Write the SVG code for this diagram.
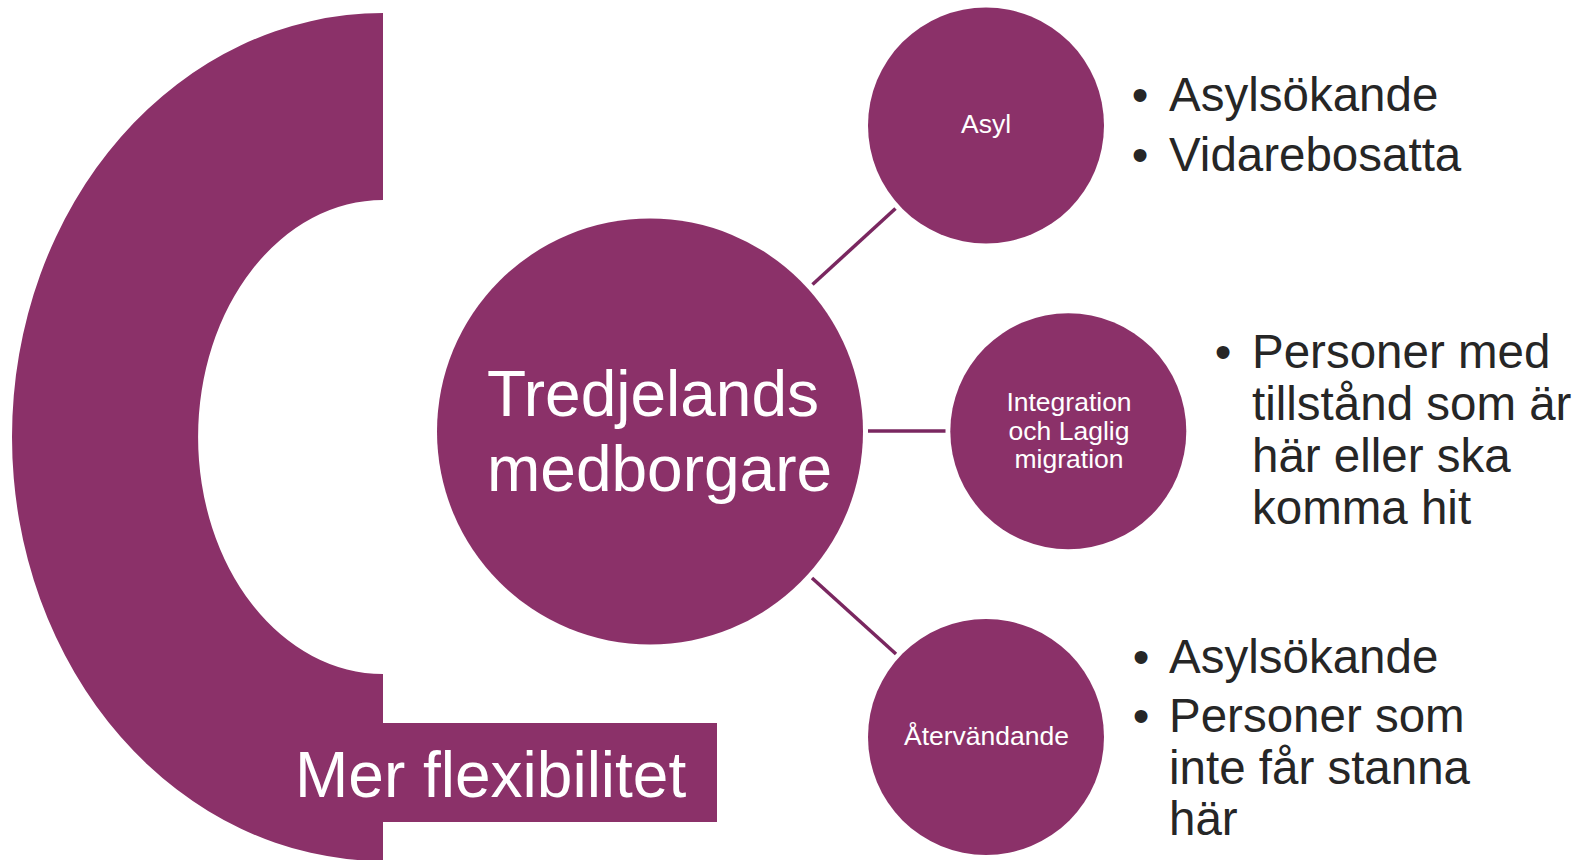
<svg xmlns="http://www.w3.org/2000/svg" width="1577" height="860" viewBox="0 0 1577 860">
<style>
.shape{fill:#8B3169;}
.conn{stroke:#7A2760;stroke-width:3.5;fill:none;}
.wt{fill:#FFFFFF;font-family:"Liberation Sans",Arial,sans-serif;}
.sm{font-size:26.5px;text-anchor:middle;}
.bt{fill:#262626;font-family:"Liberation Sans",Arial,sans-serif;font-size:47.5px;}
</style>
<rect width="1577" height="860" fill="#FFFFFF"/>
<g id="flex">
<path class="shape" d="M383,13 L383,200 A185,237 0 0 0 383,674 L383,861 A371,424 0 0 1 383,13 Z"/>
<rect class="shape" x="383" y="723" width="334" height="99"/>
<text class="wt" x="295" y="797" font-size="64">Mer flexibilitet</text>
</g>
<g id="connectors">
<line class="conn" x1="812.5" y1="284.5" x2="895.5" y2="208.5"/>
<line class="conn" x1="868" y1="431" x2="945.5" y2="431"/>
<line class="conn" x1="812" y1="578" x2="896" y2="654"/>
</g>
<g id="center">
<circle class="shape" cx="650" cy="431.5" r="213"/>
<text class="wt" font-size="64"><tspan x="487" y="416">Tredjelands</tspan><tspan x="487" y="491">medborgare</tspan></text>
</g>
<g id="asyl">
<circle class="shape" cx="986" cy="125.5" r="118"/>
<text class="wt sm" x="986" y="133">Asyl</text>
</g>
<g id="integration">
<circle class="shape" cx="1068.3" cy="431.3" r="118"/>
<text class="wt sm"><tspan x="1069" y="411">Integration</tspan><tspan x="1069" y="439.5">och Laglig</tspan><tspan x="1069" y="468">migration</tspan></text>
</g>
<g id="atervandande">
<circle class="shape" cx="986" cy="737" r="118"/>
<text class="wt sm" x="986.5" y="745">Återvändande</text>
</g>
<g id="list-asyl">
<text class="bt" x="1140" y="111" text-anchor="middle">•</text>
<text class="bt" x="1169" y="111">Asylsökande</text>
<text class="bt" x="1140" y="171" text-anchor="middle">•</text>
<text class="bt" x="1169" y="171">Vidarebosatta</text>
</g>
<g id="list-integration">
<text class="bt" x="1223" y="368" text-anchor="middle">•</text>
<text class="bt"><tspan x="1252" y="368">Personer med</tspan><tspan x="1252" y="420">tillstånd som är</tspan><tspan x="1252" y="472">här eller ska</tspan><tspan x="1252" y="524">komma hit</tspan></text>
</g>
<g id="list-atervandande">
<text class="bt" x="1141" y="673" text-anchor="middle">•</text>
<text class="bt" x="1169" y="673">Asylsökande</text>
<text class="bt" x="1141" y="732" text-anchor="middle">•</text>
<text class="bt"><tspan x="1169" y="732">Personer som</tspan><tspan x="1169" y="783.5">inte får stanna</tspan><tspan x="1169" y="835">här</tspan></text>
</g>
</svg>
